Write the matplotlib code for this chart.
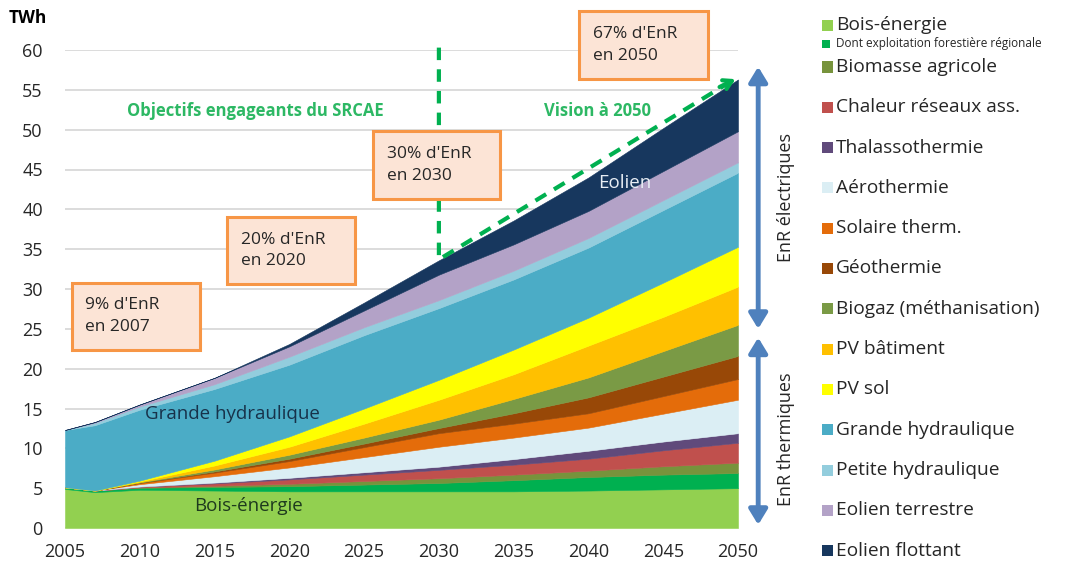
import matplotlib
matplotlib.use('Agg')
import matplotlib.pyplot as plt
from matplotlib.patches import Rectangle

plt.rcParams['font.family'] = ['Open Sans', 'DejaVu Sans']

# Production EnR par filière (TWh), scénario SRCAE
years = [2005, 2007, 2010, 2015, 2020, 2025, 2030, 2035, 2040, 2045, 2050]

bois_energie = [4.9, 4.5, 4.8, 4.7, 4.6, 4.6, 4.6, 4.6, 4.7, 4.85, 5.0]
exploitation_forestiere = [0.2, 0.2, 0.25, 0.45, 0.65, 0.85, 1.05, 1.4, 1.7, 1.85, 1.9]
biomasse_agricole = [0, 0, 0.05, 0.15, 0.3, 0.45, 0.6, 0.7, 0.8, 1.05, 1.3]
chaleur_reseaux = [0, 0, 0.1, 0.3, 0.55, 0.8, 1.05, 1.25, 1.5, 2.0, 2.5]
thalassothermie = [0, 0, 0, 0.1, 0.2, 0.3, 0.4, 0.7, 1.0, 1.1, 1.2]
aerothermie = [0, 0, 0.3, 0.8, 1.3, 1.9, 2.5, 2.7, 2.9, 3.5, 4.2]
solaire_thermique = [0, 0, 0.15, 0.45, 0.8, 1.25, 1.7, 1.75, 1.8, 2.2, 2.6]
geothermie = [0, 0, 0.05, 0.15, 0.3, 0.45, 0.65, 1.3, 2.0, 2.45, 2.9]
biogaz = [0, 0, 0.05, 0.25, 0.5, 0.75, 1.05, 1.8, 2.5, 3.2, 3.9]
pv_batiment = [0, 0, 0.1, 0.5, 1.0, 1.75, 2.5, 3.1, 4.0, 4.3, 4.8]
pv_sol = [0, 0, 0.1, 0.6, 1.3, 1.9, 2.5, 3.1, 3.5, 4.3, 5.0]
grande_hydraulique = [7.2, 8.2, 8.9, 9.0, 9.0, 9.2, 9.0, 8.8, 8.8, 9.1, 9.3]
petite_hydraulique = [0, 0.3, 0.4, 0.6, 1.0, 1.0, 1.0, 1.1, 1.2, 1.25, 1.3]
eolien_terrestre = [0, 0.1, 0.25, 0.8, 1.3, 2.1, 3.2, 3.3, 3.4, 3.65, 3.9]
eolien_flottant = [0, 0, 0, 0, 0.3, 1.0, 1.8, 3.0, 4.2, 5.4, 6.5]

series = [bois_energie, exploitation_forestiere, biomasse_agricole, chaleur_reseaux,
          thalassothermie, aerothermie, solaire_thermique, geothermie, biogaz,
          pv_batiment, pv_sol, grande_hydraulique, petite_hydraulique,
          eolien_terrestre, eolien_flottant]

labels = ['Bois-énergie', 'Dont exploitation forestière régionale', 'Biomasse agricole',
          'Chaleur réseaux ass.', 'Thalassothermie', 'Aérothermie', 'Solaire therm.',
          'Géothermie', 'Biogaz (méthanisation)', 'PV bâtiment', 'PV sol',
          'Grande hydraulique', 'Petite hydraulique', 'Eolien terrestre', 'Eolien flottant']

colors = ['#92D050', '#00B050', '#77933C', '#C0504D', '#604A7B', '#DBEEF4', '#E46C0A',
          '#984807', '#7A9A45', '#FFC000', '#FFFF00', '#4BACC6', '#93CDDD', '#B3A2C7',
          '#17375E']

targets = [("9% d'EnR\nen 2007", 2005.47, 22.4, 8.57, 8.4),
           ("20% d'EnR\nen 2020", 2015.85, 30.6, 8.57, 8.4),
           ("30% d'EnR\nen 2030", 2025.6, 41.3, 8.5, 8.5),
           ("67% d'EnR\nen 2050", 2039.4, 56.4, 8.57, 8.5)]

green = '#00B050'
arrow_blue = '#4F81BD'
W, H = 1065, 567

fig = plt.figure(figsize=(W / 100, H / 100), dpi=100)
ax = fig.add_axes([65 / W, 1 - 528 / H, 673 / W, 478 / H])

polys = ax.stackplot(years, *series, colors=colors)
for p in polys:
    p.set_edgecolor(p.get_facecolor())
    p.set_linewidth(0.4)

ax.set_xlim(2005, 2050)
ax.set_ylim(0, 60)
ax.set_xticks(range(2005, 2051, 5))
ax.set_yticks(range(0, 61, 5))
ax.grid(axis='y', color='#D9D9D9', lw=1.3)
ax.set_axisbelow(True)
for s in ax.spines.values():
    s.set_visible(False)
ax.tick_params(length=0, labelsize=13, colors='#262626')
ax.tick_params(axis='y', pad=16)
ax.tick_params(axis='x', pad=11)
fig.text(28 / W, 1 - 18 / H, 'TWh', fontsize=12.5, fontweight='bold', ha='center', va='center')

# labels inside the areas
ax.text(2016.2, 14.3, 'Grande hydraulique', fontsize=13.5, color='#17324A', ha='center', va='center')
ax.text(2017.3, 2.8, 'Bois-énergie', fontsize=13.5, color='#1E3A1E', ha='center', va='center')
ax.text(2042.4, 43.3, 'Eolien', fontsize=13.5, color='#E8EEF5', ha='center', va='center')

# target boxes
for txt, x0, y0, w, h in targets:
    ax.add_patch(Rectangle((x0, y0), w, h, facecolor='#FCE4D6', edgecolor='#F79646',
                           lw=2.2, clip_on=False, zorder=5))
    ax.text(x0 + 0.9, y0 + h / 2, txt, fontsize=12.5, color='#262626', va='center',
            ha='left', linespacing=1.45, zorder=6, clip_on=False)

ax.text(2017.7, 52.3, 'Objectifs engageants du SRCAE', fontsize=12, fontweight='bold',
        color='#2DB864', ha='center', va='center')
ax.text(2040.6, 52.3, 'Vision à 2050', fontsize=12, fontweight='bold',
        color='#2DB864', ha='center', va='center')

# SRCAE horizon and 2050 vision
ax.plot([2030, 2030, 2049.4], [60.3, 33.7, 55.9], color=green, lw=3,
        ls=(0, (3, 2.2)), clip_on=False, zorder=4)
ax.annotate('', xy=(2050, 56.5), xytext=(2048.6, 55.2),
            arrowprops=dict(arrowstyle='->,head_length=0.6,head_width=0.35',
                            color=green, lw=3), annotation_clip=False, zorder=4)

# electric / thermal brackets
for y_top, y_bot in [(57.9, 25.0), (23.9, 0.4)]:
    ax.annotate('', xy=(2051.35, y_top), xytext=(2051.35, y_bot),
                arrowprops=dict(arrowstyle='<|-|>,head_length=0.9,head_width=0.55',
                                color=arrow_blue, lw=3.5, shrinkA=0, shrinkB=0),
                annotation_clip=False)
ax.text(2053.2, 41.5, 'EnR électriques', rotation=90, fontsize=13, ha='center',
        va='center', color='#262626', clip_on=False)
ax.text(2053.2, 11.1, 'EnR thermiques', rotation=90, fontsize=13, ha='center',
        va='center', color='#262626', clip_on=False)

# legend, drawn by hand because of the sub-entry
legend_y = [25, 44] + [67 + 40.3 * i for i in range(13)]
for i, (lab, col) in enumerate(zip(labels, colors)):
    py = legend_y[i]
    small = i == 1
    size = 8 if small else 11
    fig.patches.append(Rectangle((822 / W, 1 - (py + size / 2) / H), size / W, size / H,
                                 facecolor=col, edgecolor='none', transform=fig.transFigure))
    fig.text(836 / W, 1 - py / H, lab, fontsize=8.5 if small else 13.8, va='center',
             ha='left', color='#262626')

fig.savefig('out.png', dpi=100)
